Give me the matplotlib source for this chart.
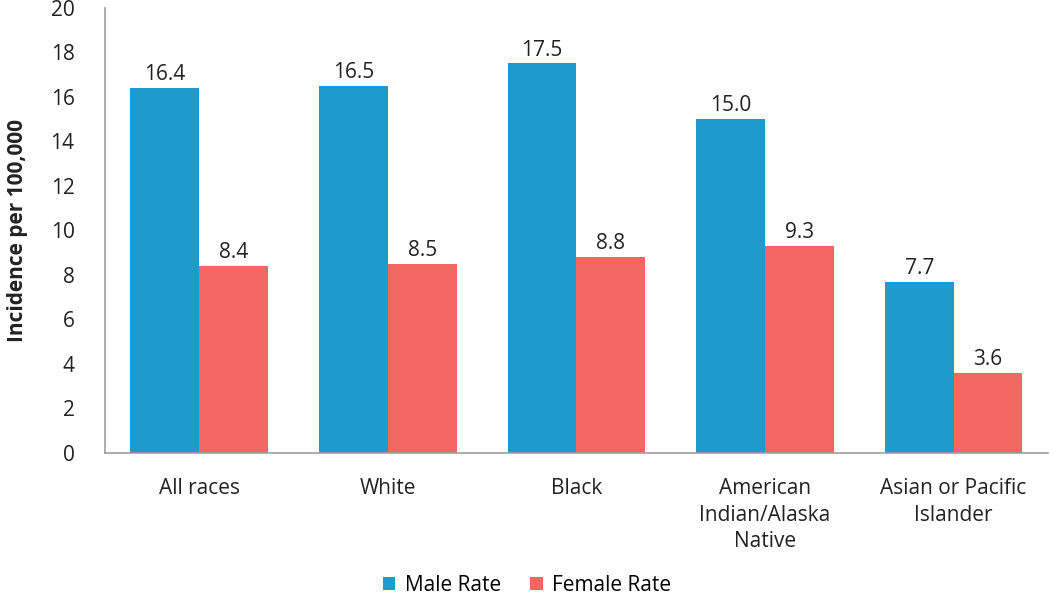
import matplotlib
matplotlib.use("Agg")
import matplotlib.pyplot as plt
import numpy as np

plt.rcParams['font.family'] = ['Open Sans', 'DejaVu Sans']

categories = ["All races", "White", "Black", "American\nIndian/Alaska\nNative", "Asian or Pacific\nIslander"]
male_rate = [16.4, 16.5, 17.5, 15.0, 7.7]
female_rate = [8.4, 8.5, 8.8, 9.3, 3.6]
y_ticks = [0, 2, 4, 6, 8, 10, 12, 14, 16, 18, 20]

blue = "#1f9acd"
red = "#f26761"
fs = 15

fig = plt.figure(figsize=(10.5, 6), dpi=100)
ax = fig.add_axes([0.1, 0.245, 0.898, 0.742])

x = np.arange(len(categories))
w = 0.365
b1 = ax.bar(x - w/2, male_rate, w, color=blue, label="Male Rate")
b2 = ax.bar(x + w/2, female_rate, w, color=red, label="Female Rate")

for bars, vals in ((b1, male_rate), (b2, female_rate)):
    for r, v in zip(bars, vals):
        ax.text(r.get_x() + r.get_width()/2, v + 0.12, f"{v:.1f}", ha="center", va="bottom",
                fontsize=fs, color="#222222")

ax.set_xlim(-0.5, len(categories) - 0.5)
ax.set_ylim(0, 20)
ax.set_yticks(y_ticks)
ax.set_xticks(x)
ax.set_xticklabels(categories, fontsize=fs, color="#222222", linespacing=1.35)
ax.tick_params(axis='y', labelsize=fs, colors="#222222", length=0, pad=22)
ax.tick_params(axis='x', length=0, pad=18)
ax.set_ylabel("Incidence per 100,000", fontsize=fs, fontweight="bold", color="#222222", labelpad=16)

for s in ("top", "right"):
    ax.spines[s].set_visible(False)
for s in ("left", "bottom"):
    ax.spines[s].set_color("#a0a0a0")
    ax.spines[s].set_linewidth(1.2)

fig.legend(handles=[b1, b2], labels=["Male Rate", "Female Rate"], loc="center",
           bbox_to_anchor=(0.502, 0.024), ncol=2, frameon=False, fontsize=fs,
           handlelength=0.6, handleheight=0.6, handletextpad=0.45, columnspacing=1.4)

fig.savefig("out.png", dpi=100)
